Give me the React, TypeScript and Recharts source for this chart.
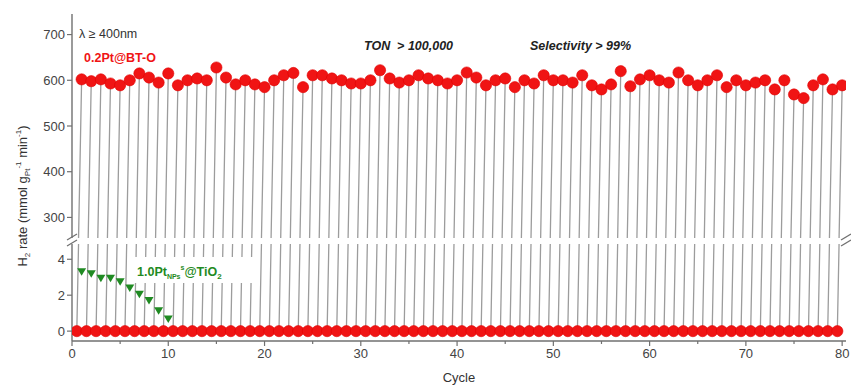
import { ComposedChart, Line, Scatter, XAxis, YAxis } from "recharts";

// H2 evolution rate, 0.2Pt@BT-O, cycles 1..80 (mmol gPt^-1 min^-1)
const btoRates = [
  602, 598, 602, 593, 589, 600, 615, 606, 595, 615,
  589, 600, 604, 600, 628, 606, 591, 600, 591, 585,
  600, 611, 616, 585, 611, 611, 604, 600, 593, 593,
  600, 622, 604, 595, 600, 611, 604, 600, 593, 600,
  617, 606, 589, 600, 604, 585, 600, 593, 611, 600,
  600, 595, 611, 589, 580, 591, 620, 587, 602, 611,
  600, 595, 617, 600, 589, 600, 611, 585, 600, 589,
  595, 600, 580, 600, 569, 561, 589, 602, 580, 589,
];

// 1.0Pt_NPs^s@TiO2, cycles 1..10
const tio2Rates = [3.3, 3.2, 2.95, 2.95, 2.75, 2.4, 2.05, 1.7, 1.13, 0.67];

const cycles = btoRates.map((_, i) => i + 1);

const xTicks = [0, 5, 10, 15, 20, 25, 30, 35, 40, 45, 50, 55, 60, 65, 70, 75, 80];
const topTicks = [300, 350, 400, 450, 500, 550, 600, 650, 700];
const bottomTicks = [0, 1, 2, 3, 4];

const X_DOMAIN: [number, number] = [0, 80.4];
const TOP_DOMAIN: [number, number] = [255, 745];
const BOTTOM_DOMAIN: [number, number] = [-0.55, 4.85];

// each cycle: rate resets to 0 half a cycle before the peak
const RESET = 0.5;
const CROSS = 0.32;

const AXIS = "#707070";
const TICK_TEXT = "#444";
const FONT = "'Liberation Sans', Arial, sans-serif";
const RED = "#f01414";
const GREEN = "#1f8a22";
const STEM = "#9c9c9c";

const topSegments = cycles.flatMap((c, i) => [
  { x: c - CROSS, y: TOP_DOMAIN[0] },
  { x: c, y: btoRates[i] },
  { x: c, y: null },
]);

const bottomSegments = cycles.flatMap((c) => [
  { x: c - RESET, y: 0 },
  { x: c - CROSS, y: BOTTOM_DOMAIN[1] },
  { x: c - CROSS, y: null },
]);

const topDots = cycles.map((c, i) => ({ x: c, y: btoRates[i] }));
const zeroDots = cycles.map((c) => ({ x: c - RESET, y: 0 }));
const tio2Dots = tio2Rates.map((v, i) => ({ x: cycles[i], y: v }));

const redDot = (p: any) => (
  <circle cx={p.cx} cy={p.cy} r={5.6} fill={RED} stroke="#e00000" strokeWidth={0.6} />
);

const greenTri = (p: any) => (
  <path
    d={`M${p.cx - 4.5},${p.cy - 3.5} L${p.cx + 4.5},${p.cy - 3.5} L${p.cx},${p.cy + 4} Z`}
    fill={GREEN}
  />
);

function yTick(isMajor: (v: number) => boolean) {
  return (p: any) => {
    const major = isMajor(p.payload.value);
    return (
      <g>
        <line x1={p.x} x2={p.x - (major ? 5 : 3)} y1={p.y} y2={p.y} stroke={AXIS} strokeWidth={1.2} />
        {major && (
          <text x={p.x - 7} y={p.y} dy={4.5} textAnchor="end" fontSize={13} fontFamily={FONT} fill={TICK_TEXT}>
            {p.payload.value}
          </text>
        )}
      </g>
    );
  };
}

const xTick = (p: any) => {
  const major = p.payload.value % 10 === 0;
  return (
    <g>
      <line x1={p.x} x2={p.x} y1={p.y} y2={p.y + (major ? 5 : 3)} stroke={AXIS} strokeWidth={1.2} />
      {major && (
        <text x={p.x} y={p.y + 17} textAnchor="middle" fontSize={13} fontFamily={FONT} fill={TICK_TEXT}>
          {p.payload.value}
        </text>
      )}
    </g>
  );
};

const axisLine = { stroke: AXIS, strokeWidth: 1.4 };

export default function App() {
  return (
    <div style={{ position: "absolute", left: 0, top: 0, width: 851, height: 385, background: "#fff" }}>
      <div style={{ position: "absolute", left: 0, top: 0 }}>
        <ComposedChart width={851} height={240} margin={{ top: 14, right: 5, bottom: 2, left: 12 }}>
          <XAxis
            xAxisId="t"
            orientation="top"
            type="number"
            dataKey="x"
            domain={X_DOMAIN}
            allowDataOverflow
            height={0}
            tick={false}
            tickLine={false}
            axisLine={axisLine}
          />
          <YAxis
            yAxisId="l"
            type="number"
            dataKey="y"
            domain={TOP_DOMAIN}
            allowDataOverflow
            ticks={topTicks}
            width={60}
            tickSize={0}
            tickMargin={0}
            tickLine={false}
            tick={yTick((v) => v % 100 === 0)}
            axisLine={axisLine}
          />
          <YAxis yAxisId="r" orientation="right" domain={TOP_DOMAIN} width={0} tick={false} tickLine={false} axisLine={axisLine} />
          <Line
            xAxisId="t"
            yAxisId="l"
            data={topSegments}
            dataKey="y"
            stroke={STEM}
            strokeWidth={1.3}
            dot={false}
            activeDot={false}
            connectNulls={false}
            isAnimationActive={false}
          />
          <Scatter xAxisId="t" yAxisId="l" data={topDots} dataKey="y" shape={redDot} isAnimationActive={false} />
        </ComposedChart>
      </div>

      <div style={{ position: "absolute", left: 0, top: 240 }}>
        <ComposedChart width={851} height={145} margin={{ top: 4, right: 5, bottom: 0, left: 12 }}>
          <XAxis
            xAxisId="b"
            type="number"
            dataKey="x"
            domain={X_DOMAIN}
            allowDataOverflow
            ticks={xTicks}
            height={44}
            tickSize={0}
            tickMargin={0}
            tickLine={false}
            tick={xTick}
            axisLine={axisLine}
          />
          <YAxis
            yAxisId="l"
            type="number"
            dataKey="y"
            domain={BOTTOM_DOMAIN}
            allowDataOverflow
            ticks={bottomTicks}
            width={60}
            tickSize={0}
            tickMargin={0}
            tickLine={false}
            tick={yTick((v) => v % 2 === 0)}
            axisLine={axisLine}
          />
          <YAxis yAxisId="r" orientation="right" domain={BOTTOM_DOMAIN} width={0} tick={false} tickLine={false} axisLine={axisLine} />
          <Line
            xAxisId="b"
            yAxisId="l"
            data={bottomSegments}
            dataKey="y"
            stroke={STEM}
            strokeWidth={1.3}
            dot={false}
            activeDot={false}
            connectNulls={false}
            isAnimationActive={false}
          />
          <Scatter xAxisId="b" yAxisId="l" data={tio2Dots} dataKey="y" shape={greenTri} isAnimationActive={false} />
          <Scatter xAxisId="b" yAxisId="l" data={zeroDots} dataKey="y" shape={redDot} isAnimationActive={false} />
        </ComposedChart>
      </div>

      <svg width={851} height={385} style={{ position: "absolute", left: 0, top: 0, pointerEvents: "none" }}>
        <g fontFamily={FONT}>
          <text x={79} y={38} fontSize={12.5} fill="#333">λ ≥ 400nm</text>
          <text x={84} y={62} fontSize={12.5} fontWeight="bold" fill={RED}>0.2Pt@BT-O</text>
          <text x={364} y={50} fontSize={12.5} fontWeight="bold" fontStyle="italic" fill="#222">{"TON\u00a0\u00a0> 100,000"}</text>
          <text x={530} y={50} fontSize={12.5} fontWeight="bold" fontStyle="italic" fill="#222">Selectivity &gt; 99%</text>

          <rect x={133} y={257} width={121} height={26} fill="#fff" />
          <text x={137} y={276} fontSize={12.5} fontWeight="bold" fill={GREEN}>
            1.0Pt
            <tspan fontSize={7} dy={3}>NPs</tspan>
            <tspan fontSize={7} dy={-9}>s</tspan>
            <tspan dy={6}>@TiO</tspan>
            <tspan fontSize={8} dy={3}>2</tspan>
          </text>

          <text transform="translate(27,196) rotate(-90)" textAnchor="middle" fontSize={13} fill="#333">
            H<tspan fontSize={8} dy={3}>2</tspan>
            <tspan dy={-3}> rate (mmol g</tspan>
            <tspan fontSize={8} dy={3}>Pt</tspan>
            <tspan fontSize={8} dy={-9}>-1</tspan>
            <tspan dy={6}> min</tspan>
            <tspan fontSize={8} dy={-6}>-1</tspan>
            <tspan dy={6}>)</tspan>
          </text>

          <text x={459} y={382} textAnchor="middle" fontSize={13} fill="#333">Cycle</text>
        </g>
        <g stroke={AXIS} strokeWidth={1.3}>
          <line x1={67} y1={240} x2={77} y2={234} />
          <line x1={67} y1={246} x2={77} y2={240} />
          <line x1={841} y1={246} x2={851} y2={240} />
          <line x1={841} y1={240} x2={851} y2={234} />
        </g>
      </svg>
    </div>
  );
}
